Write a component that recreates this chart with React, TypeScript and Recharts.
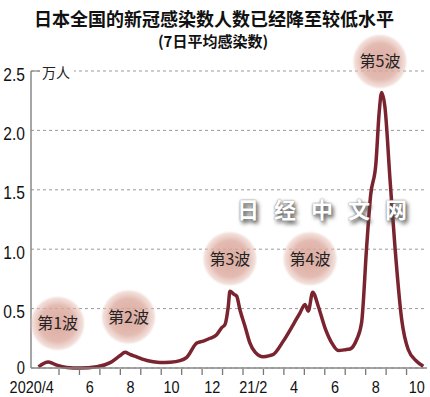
import React from 'react'
import { LineChart, Line, XAxis, YAxis, CartesianGrid, ReferenceDot } from 'recharts'

// 月份位置 (0 = 2020年4月初), 单位: 月
const monthPos = [
  0, 0.48, 0.89, 1.38, 2.03, 2.85, 3.5, 3.99, 4.23, 4.47, 4.8, 5.12, 5.61, 5.94, 6.43, 6.92,
  7.25, 7.74, 8.06, 8.39, 8.71, 8.96, 9.12, 9.28, 9.36, 9.56, 9.69, 9.85, 10.1, 10.34, 10.59,
  10.99, 11.32, 11.48, 11.97, 12.46, 12.79, 13.03, 13.19, 13.41, 13.68, 14.01, 14.34, 14.66,
  15.07, 15.23, 15.56, 15.8, 16.05, 16.24, 16.5, 16.66, 16.78, 16.94, 17.19, 17.43, 17.76,
  18.08, 18.49, 18.82,
]

// 7日平均感染数 (万人)
const cases = [
  0.01, 0.05, 0.024, 0.005, 0.0, 0.01, 0.045, 0.105, 0.133, 0.115, 0.094, 0.072, 0.052, 0.046,
  0.049, 0.062, 0.09, 0.21, 0.226, 0.25, 0.28, 0.34, 0.366, 0.52, 0.646, 0.62, 0.605, 0.49,
  0.35, 0.21, 0.133, 0.094, 0.105, 0.114, 0.226, 0.366, 0.465, 0.535, 0.478, 0.638, 0.52,
  0.338, 0.212, 0.147, 0.156, 0.16, 0.24, 0.38, 1.025, 1.45, 1.72, 2.15, 2.32, 2.2, 1.59,
  1.025, 0.41, 0.156, 0.057, 0.015,
]

const xLabels = ['2020/4', '6', '8', '10', '12', '21/2', '4', '6', '8', '10']
const yTicks = [0, 0.5, 1, 1.5, 2, 2.5]
const yLabels = ['0', '0.5', '1.0', '1.5', '2.0', '2.5']

const waveLabels = ['第1波', '第2波', '第3波', '第4波', '第5波']
const waveAt = [
  { t: 0.93, v: 0.375 },
  { t: 4.4, v: 0.43 },
  { t: 9.36, v: 0.92 },
  { t: 13.28, v: 0.92 },
  { t: 16.7, v: 2.58 },
]

const data = monthPos.map((t, i) => ({ t, v: cases[i] }))
const monthTicks = Array.from({ length: 18 }, (_, i) => i + 1)
const labelTicks = xLabels.map((_, i) => i * 2 + 0.5)

const cjk = '"Noto Sans CJK SC", "Noto Sans", sans-serif'
const sans = '"Liberation Sans", Arial, sans-serif'

const XTick = (props: any) => {
  const { x, y, payload } = props
  const val = payload.value
  if (Number.isInteger(val)) {
    return <line x1={x} x2={x} y1={y + 1} y2={y + 7} stroke="#777" strokeWidth={1.3} />
  }
  const idx = Math.round((val - 0.5) / 2)
  const first = idx === 0
  return (
    <text transform={`translate(${first ? x + 5 : x},${y + 25}) scale(0.85,1)`}
      textAnchor={first ? 'end' : 'middle'} fontFamily={sans} fontSize={17} fill="#111">
      {xLabels[idx]}
    </text>
  )
}

const YTick = (props: any) => {
  const { x, y, payload } = props
  const idx = yTicks.indexOf(payload.value)
  return (
    <text transform={`translate(${x - 6},${y + (idx === 0 ? 5.5 : 9.5)}) scale(0.82,1)`}
      textAnchor="end" fontFamily={sans} fontSize={idx === 0 ? 18 : 19} fill="#111">
      {yLabels[idx]}
    </text>
  )
}

const Bubble = (props: any) => {
  const { cx, cy, label, id } = props
  return (
    <g>
      <defs>
        <radialGradient id={id}>
          <stop offset="0%" stopColor="#d89f93" stopOpacity={0.88} />
          <stop offset="65%" stopColor="#dcaa9e" stopOpacity={0.8} />
          <stop offset="90%" stopColor="#e6bfb5" stopOpacity={0.5} />
          <stop offset="100%" stopColor="#f0d6cf" stopOpacity={0} />
        </radialGradient>
      </defs>
      <circle cx={cx} cy={cy} r={28} fill={`url(#${id})`} />
      <text x={cx} y={cy + 6} textAnchor="middle" fontFamily={cjk} fontSize={16} fill="#222">
        {label}
      </text>
    </g>
  )
}

export default function App() {
  return (
    <div style={{ position: 'absolute', left: 0, top: 0, width: 430, height: 397, background: '#fff' }}>
      <LineChart width={430} height={397} data={data} margin={{ top: 71, right: 3, left: 0, bottom: 0 }}>
        <CartesianGrid vertical={false} strokeDasharray="3 3" stroke="#9a9a9a" />
        <XAxis
          dataKey="t"
          type="number"
          domain={[-0.37, 19]}
          allowDataOverflow
          ticks={[...monthTicks, ...labelTicks]}
          interval={0}
          tickSize={0}
          tickMargin={0}
          tickLine={false}
          height={29}
          stroke="#888"
          strokeWidth={1.5}
          tick={<XTick />}
        />
        <YAxis
          type="number"
          domain={[0, 2.5]}
          ticks={yTicks}
          interval={0}
          width={31}
          tickSize={0}
          tickMargin={0}
          tickLine={false}
          stroke="#888"
          strokeWidth={1.5}
          tick={<YTick />}
        />
        {waveAt.map((w, i) => (
          <ReferenceDot
            key={waveLabels[i]}
            x={w.t}
            y={w.v}
            ifOverflow="visible"
            shape={(p: any) => <Bubble {...p} label={waveLabels[i]} id={`wave${i}`} />}
          />
        ))}
        <Line
          type="monotone"
          dataKey="v"
          stroke="#7a2430"
          strokeWidth={3.5}
          dot={false}
          isAnimationActive={false}
        />
      </LineChart>
      <svg width={430} height={397} style={{ position: 'absolute', left: 0, top: 0, pointerEvents: 'none' }}>
        <text x={214} y={25.5} textAnchor="middle" fontFamily={cjk} fontWeight={700} fontSize={18} fill="#111">
          日本全国的新冠感染数人数已经降至较低水平
        </text>
        <text x={213} y={46.5} textAnchor="middle" fontFamily={cjk} fontWeight={700} fontSize={15} fill="#111">
          (7日平均感染数)
        </text>
        <rect x={40} y={63} width={34} height={16} fill="#fff" />
        <line x1={31} x2={40} y1={71} y2={71} stroke="#888" strokeWidth={1.2} />
        <text x={42} y={77.5} fontFamily={cjk} fontSize={14} fill="#222">万人</text>
      </svg>
      <div
        style={{
          position: 'absolute', left: 237, top: 194, fontFamily: cjk, fontSize: 22, fontWeight: 700,
          letterSpacing: 15, color: '#fff', textShadow: '0 0 2px #666, 2px 3px 4px #444',
          whiteSpace: 'nowrap', pointerEvents: 'none', lineHeight: '28px',
        }}
      >
        日经中文网
      </div>
    </div>
  )
}
